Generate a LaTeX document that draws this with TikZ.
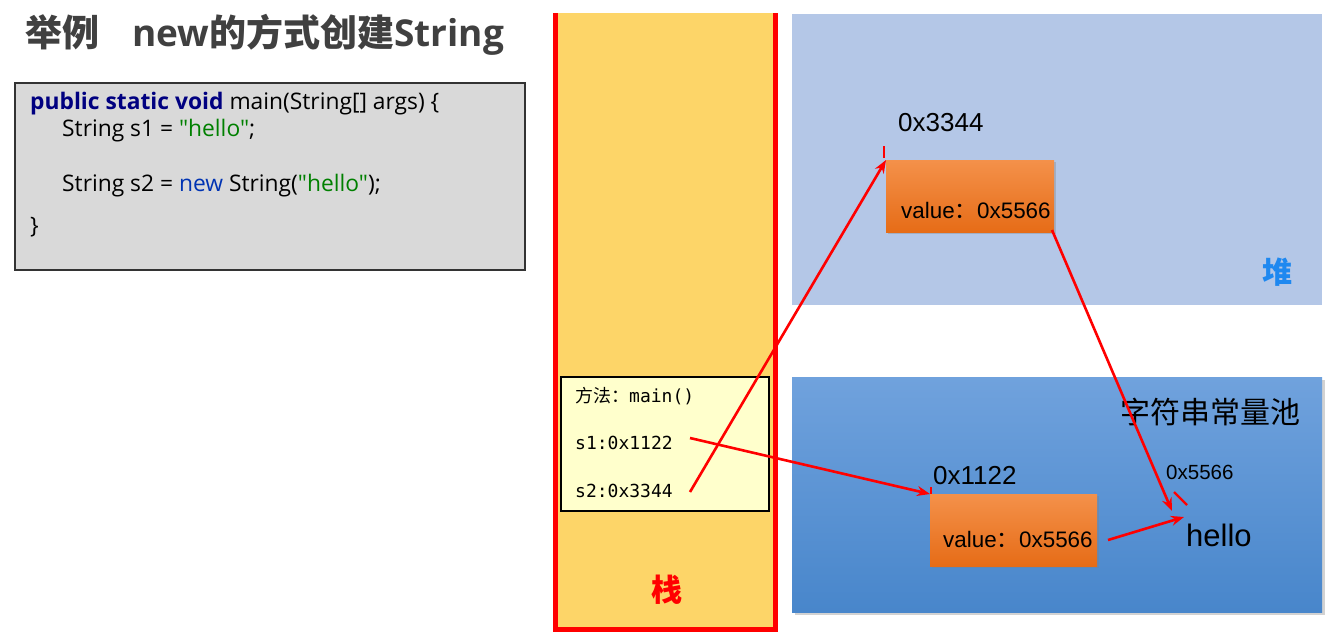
\documentclass[tikz,border=0pt]{standalone}
\usepackage{fontspec}
\setmainfont{Liberation Sans}
\newfontfamily\cjk{Noto Sans CJK SC}
\newfontfamily\codef{Open Sans}
\newfontfamily\monof{DejaVu Sans Mono}
\usetikzlibrary{arrows.meta,shadows}
\definecolor{heapblue}{HTML}{B4C7E7}
\definecolor{pooltop}{HTML}{70A2DD}
\definecolor{poolbot}{HTML}{4886CB}
\definecolor{stackyel}{HTML}{FDD568}
\definecolor{frameyel}{HTML}{FFFFCC}
\definecolor{codegray}{HTML}{D9D9D9}
\definecolor{orgtop}{HTML}{F4914A}
\definecolor{orgbot}{HTML}{E66C17}
\definecolor{titlegray}{HTML}{404040}
\definecolor{kwnavy}{HTML}{000080}
\definecolor{kwblue}{HTML}{0033B3}
\definecolor{strgreen}{HTML}{008000}
\definecolor{heapword}{HTML}{1E88F0}
\tikzset{
  area/.style={inner sep=0pt, outer sep=0pt, anchor=north west},
  obj/.style={area, minimum width=168pt, minimum height=72pt,
     top color=orgtop, bottom color=orgbot,
     drop shadow={opacity=0.35, shadow xshift=2pt, shadow yshift=-2pt}},
  lbl/.style={inner sep=0pt, anchor=west, font=\fontsize{26}{30}\selectfont},
  vlbl/.style={inner sep=0pt, anchor=west, font=\fontsize{22.4}{26}\selectfont},
  codeln/.style={inner sep=0pt, anchor=west, font=\codef\fontsize{22.8}{26}\selectfont},
  monoln/.style={inner sep=0pt, anchor=west, font=\monof\fontsize{18}{22}\selectfont},
  redarrow/.style={draw=red, line width=2.6pt, -{Stealth[length=13pt,width=10pt]}},
  tick/.style={draw=red, line width=2.2pt},
}
\begin{document}
\begin{tikzpicture}[x=1pt,y=-1pt]
\useasboundingbox (0,0) rectangle (1341,633);
\fill[white] (0,0) rectangle (1341,633);

% title
\node[inner sep=0pt, anchor=west, text=titlegray, font=\cjk\bfseries\fontsize{37}{40}\selectfont] (title) at (25,35) {举例\hspace{33pt}{\codef\bfseries new}的方式创建{\codef\bfseries String}};

% code box
\node[area, draw=black!80, line width=1.5pt, fill=codegray, minimum width=510pt, minimum height=187pt] (code) at (15,83) {};
\node[codeln] (c1) at (30,104) {\textcolor{kwnavy}{\bfseries public static void} main(String[] args) \{};
\node[codeln] (c2) at (62,131) {String s1 = \textcolor{strgreen}{"hello"};};
\node[codeln] (c3) at (62,186) {String s2 = \textcolor{kwblue}{new} String(\textcolor{strgreen}{"hello"});};
\node[codeln] (c4) at (30,227) {\}};

% stack
\node[area, fill=stackyel, minimum width=220pt, minimum height=617pt] (stack) at (556,13) {};
\draw[red, line width=5pt] (555.5,13) -- (555.5,629) -- (775.5,629) -- (775.5,13);
\node[text=red, font=\cjk\bfseries\fontsize{31}{34}\selectfont, inner sep=0pt] (stlbl) at (667,590) {栈};

% frame
\node[area, draw=black, line width=1.5pt, fill=frameyel, minimum width=208pt, minimum height=134pt] (frame) at (561,377) {};
\node[monoln] (m0) at (575,396) {{\cjk 方法：}main()};
\node[monoln] (m1) at (575,443) {s1:0x1122};
\node[monoln] (m2) at (575,491) {s2:0x3344};
\coordinate (s1p) at (690,438);
\coordinate (s2p) at (690,492);

% heap
\node[area, fill=heapblue, minimum width=530pt, minimum height=291pt] (heap) at (792,14) {};
\node[text=heapword, font=\cjk\bfseries\fontsize{30}{34}\selectfont, inner sep=0pt] (heaplbl) at (1277,272) {堆};
\node[lbl] (a3344) at (898,123) {0x3344};
\node[obj] (hobj) at (886,160) {};
\node[vlbl] (hval) at (901,210) {value{\cjk ：}0x5566};

% pool
\node[area, top color=pooltop, bottom color=poolbot, minimum width=530pt, minimum height=235pt,
  drop shadow={opacity=0.35, shadow xshift=3pt, shadow yshift=-3pt}] (pool) at (792,377) {};
\node[inner sep=0pt, font=\cjk\fontsize{30}{34}\selectfont] (poollbl) at (1210,412) {字符串常量池};
\node[lbl] (a1122) at (933,476) {0x1122};
\node[obj, minimum width=167pt] (pobj) at (930,494) {};
\node[vlbl] (pval) at (943,539) {value{\cjk ：}0x5566};
\node[vlbl, font=\fontsize{20.5}{24}\selectfont] (a5566) at (1166,472) {0x5566};
\node[inner sep=0pt, anchor=west, font=\fontsize{31}{36}\selectfont] (hello) at (1186,535) {hello};

% connectors
\draw[tick] (884,146) -- (884,158);
\draw[tick] (931,487) -- (931,494);
\draw[tick] (1174,492) -- (1187,505);
\coordinate (hobjout) at (1052,230);
\coordinate (pobjout) at (1108,540);
\coordinate (helloin) at (1172,511);
\coordinate (hellol) at (1184,517);
\draw[redarrow] (s2p) -- (hobj.north west);
\draw[redarrow] (s1p) -- (pobj.north west);
\draw[redarrow] (hobjout) -- (helloin);
\draw[redarrow] (pobjout) -- (hellol);
\end{tikzpicture}
\end{document}
